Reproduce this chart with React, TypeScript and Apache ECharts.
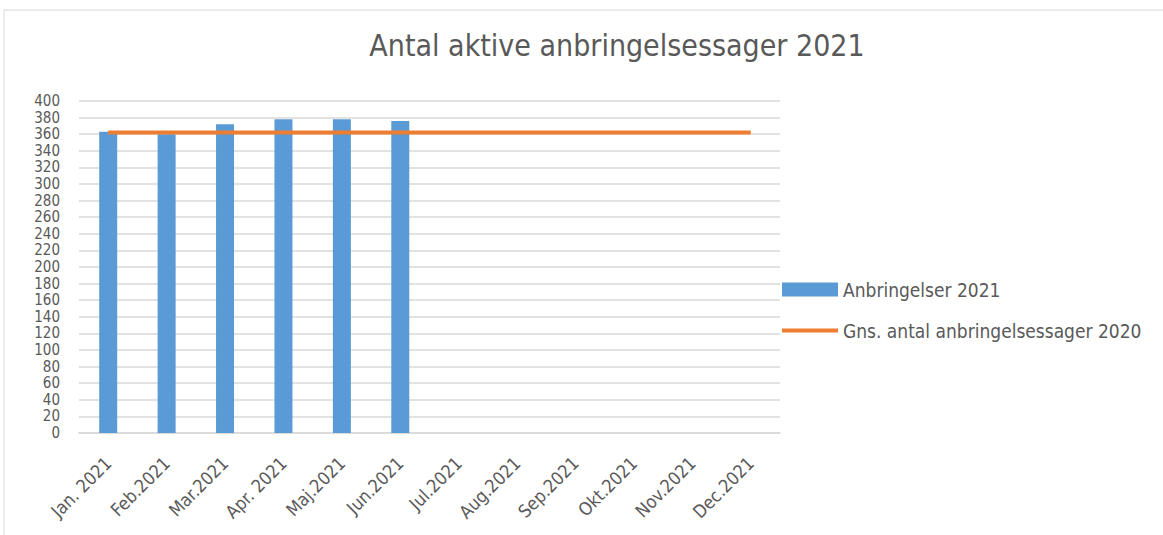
import React, { useEffect, useRef } from "react";
import * as echarts from "echarts";

const categories = ["Jan. 2021", "Feb.2021", "Mar.2021", "Apr. 2021", "Maj.2021", "Jun.2021", "Jul.2021", "Aug.2021", "Sep.2021", "Okt.2021", "Nov.2021", "Dec.2021"];
const anbringelser2021 = [363, 360, 372, 378, 378, 376, null, null, null, null, null, null];
const gns2020 = [362, 362, 362, 362, 362, 362, 362, 362, 362, 362, 362, 362];

const FONT = "'Liberation Sans Narrow', 'DejaVu Sans Condensed', sans-serif";
const TXT = "#595959";

export default function App() {
  const ref = useRef<HTMLDivElement>(null);
  useEffect(() => {
    const chart = echarts.init(ref.current!, null, { renderer: "svg" });
    chart.setOption({
      animation: false,
      backgroundColor: "#fff",
      title: {
        text: "Antal aktive anbringelsessager 2021",
        left: 612,
        textAlign: "center",
        top: 25,
        textStyle: { fontFamily: FONT, fontSize: 30, fontWeight: "normal", color: TXT },
      },
      graphic: [
        { type: "rect", shape: { x: 4, y: 10, width: 1200, height: 600 }, style: { fill: "none", stroke: "#d9d9d9", lineWidth: 1 }, silent: true },
      ],
      legend: [
        {
          orient: "vertical",
          left: 777,
          top: 275,
          itemWidth: 56,
          itemHeight: 14,
          textStyle: { fontFamily: FONT, fontSize: 19, color: TXT },
          data: [{ name: "Anbringelser 2021", icon: "rect" }],
        },
        {
          orient: "vertical",
          left: 777,
          top: 316,
          itemWidth: 56,
          itemHeight: 4,
          textStyle: { fontFamily: FONT, fontSize: 19, color: TXT },
          data: [{ name: "Gns. antal anbringelsessager 2020", icon: "rect" }],
        },
      ],
      grid: { left: 79, right: 383, top: 101, bottom: 102, containLabel: false },
      xAxis: {
        type: "category",
        data: categories,
        axisLine: { lineStyle: { color: "#d9d9d9", width: 1.5 } },
        axisTick: { show: false },
        axisLabel: { rotate: 45, interval: 0, margin: 27, fontFamily: FONT, fontSize: 18, color: TXT },
      },
      yAxis: {
        type: "value",
        min: 0,
        max: 400,
        interval: 20,
        axisLine: { show: false },
        axisTick: { show: false },
        splitLine: { lineStyle: { color: "#d9d9d9", width: 1.5 } },
        axisLabel: { margin: 19, fontFamily: FONT, fontSize: 15, color: TXT, lineHeight: 15 },
      },
      series: [
        {
          name: "Anbringelser 2021",
          type: "bar",
          data: anbringelser2021,
          barWidth: 18,
          itemStyle: { color: "#5B9BD5" },
        },
        {
          name: "Gns. antal anbringelsessager 2020",
          type: "line",
          data: gns2020,
          symbol: "none",
          lineStyle: { color: "#ED7D31", width: 4 },
          itemStyle: { color: "#ED7D31" },
        },
      ],
    });
    return () => chart.dispose();
  }, []);
  return <div ref={ref} style={{ position: "absolute", left: 0, top: 0, width: 1163, height: 535 }} />;
}
